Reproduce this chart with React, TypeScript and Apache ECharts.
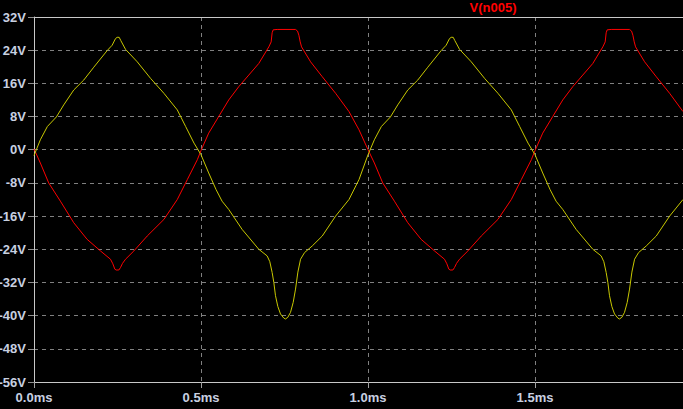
import React, { useEffect, useRef } from "react";
import * as echarts from "echarts";

// Y axis ticks (V)
const yMin = -56;
const yMax = 32;
const yStep = 8;
// X axis (ms)
const xMin = 0;
const xMax = 1.943;
const xStep = 0.5;

const titleText = "V(n005)";

// Yellow trace (time in ms, voltage in V)
const yellowT = [
  0.0, 0.019, 0.04, 0.067, 0.089, 0.119, 0.149, 0.179, 0.219, 0.234, 0.244, 0.249, 0.255, 0.26, 0.274, 0.309,
  0.349, 0.389, 0.429, 0.454, 0.479, 0.5, 0.523, 0.545, 0.563, 0.583, 0.623, 0.673, 0.698, 0.706, 0.713, 0.718,
  0.723, 0.73, 0.738, 0.748, 0.753, 0.76, 0.768, 0.776, 0.783, 0.79, 0.798, 0.81, 0.833, 0.863, 0.903, 0.943,
  0.973, 1.0,
  1.019, 1.04, 1.067, 1.089, 1.119, 1.149, 1.179, 1.219, 1.234, 1.244, 1.249, 1.255, 1.26, 1.274, 1.309,
  1.349, 1.389, 1.429, 1.454, 1.479, 1.5, 1.523, 1.545, 1.563, 1.583, 1.623, 1.673, 1.698, 1.706, 1.713, 1.718,
  1.723, 1.73, 1.738, 1.748, 1.753, 1.76, 1.768, 1.776, 1.783, 1.79, 1.798, 1.81, 1.833, 1.863, 1.903, 1.943,
];
const yellowV = [
  -1.4, 2.4, 5.6, 7.9, 10.8, 14.4, 16.8, 19.9, 23.9, 25.2, 26.8, 27.1, 27.1, 26.3, 24.2, 21.2,
  17.2, 13.6, 9.6, 5.6, 1.6, -1.2, -5.6, -9.6, -12.4, -14.4, -19.2, -24.0, -25.6, -27.0, -29.6, -32.0,
  -35.2, -37.8, -39.6, -40.6, -40.8, -40.4, -39.2, -36.8, -33.6, -29.5, -26.4, -24.8, -23.2, -20.8, -16.0, -12.0,
  -7.2, -1.2,
  2.4, 5.6, 7.9, 10.8, 14.4, 16.8, 19.9, 23.9, 25.2, 26.8, 27.1, 27.1, 26.3, 24.2, 21.2,
  17.2, 13.6, 9.6, 5.6, 1.6, -1.2, -5.6, -9.6, -12.4, -14.4, -19.2, -24.0, -25.6, -27.0, -29.6, -32.0,
  -35.2, -37.8, -39.6, -40.6, -40.8, -40.4, -39.2, -36.8, -33.6, -29.5, -26.4, -24.8, -23.2, -20.8, -16.0, -12.0,
];

// Red trace (time in ms, voltage in V)
const redT = [
  0.0, 0.019, 0.044, 0.079, 0.119, 0.159, 0.199, 0.229, 0.236, 0.242, 0.246, 0.254, 0.259, 0.265, 0.274, 0.299,
  0.339, 0.389, 0.429, 0.459, 0.489, 0.5, 0.523, 0.553, 0.583, 0.613, 0.643, 0.673, 0.703, 0.71, 0.713, 0.716,
  0.728, 0.783, 0.789, 0.793, 0.797, 0.801, 0.828, 0.863, 0.903, 0.943, 0.973, 1.0,
  1.019, 1.044, 1.079, 1.119, 1.159, 1.199, 1.229, 1.236, 1.242, 1.246, 1.254, 1.259, 1.265, 1.274, 1.299,
  1.339, 1.389, 1.429, 1.459, 1.489, 1.5, 1.523, 1.553, 1.583, 1.613, 1.643, 1.673, 1.703, 1.71, 1.713, 1.716,
  1.728, 1.783, 1.789, 1.793, 1.797, 1.801, 1.828, 1.863, 1.903, 1.943,
];
const redV = [
  0.2, -3.2, -8.0, -12.4, -17.6, -21.6, -24.4, -26.4, -27.5, -28.8, -29.0, -29.0, -28.4, -27.4, -26.4, -24.4,
  -20.8, -16.8, -12.0, -7.2, -2.4, -0.2, 4.0, 8.0, 12.0, 15.2, 18.0, 20.8, 24.8, 26.0, 28.2, 28.9,
  29.0, 29.0, 28.6, 27.6, 26.0, 24.8, 21.2, 17.6, 13.6, 9.2, 4.8, 0.0,
  -3.2, -8.0, -12.4, -17.6, -21.6, -24.4, -26.4, -27.5, -28.8, -29.0, -29.0, -28.4, -27.4, -26.4, -24.4,
  -20.8, -16.8, -12.0, -7.2, -2.4, -0.2, 4.0, 8.0, 12.0, 15.2, 18.0, 20.8, 24.8, 26.0, 28.2, 28.9,
  29.0, 29.0, 28.6, 27.6, 26.0, 24.8, 21.2, 17.6, 13.6, 9.2,
];

const zip = (t: number[], v: number[]) => t.map((x, i) => [x, v[i]]);

const FONT = "'Liberation Sans', Arial, sans-serif";
const LABEL_COLOR = "#c8d0e0";

export default function App() {
  const ref = useRef<HTMLDivElement>(null);
  useEffect(() => {
    document.body.style.margin = "0";
    document.body.style.background = "#000";
    const chart = echarts.init(ref.current!, null, { renderer: "svg" });
    chart.setOption({
      animation: false,
      backgroundColor: "#000000",
      grid: {
        left: 34,
        top: 17,
        right: 0,
        bottom: 27,
        containLabel: false,
        outerBoundsMode: "none",
      },
      graphic: [
        {
          type: "text",
          x: 493,
          y: 1,
          style: {
            text: titleText,
            fill: "#ff0000",
            font: `bold 13px ${FONT}`,
            textAlign: "center",
          },
        },
      ],
      xAxis: [
        {
          type: "value",
          min: xMin,
          max: xMax,
          interval: xStep,
          axisLine: { show: true, onZero: false, lineStyle: { color: "#c8c8c8", width: 1 } },
          axisTick: { show: true, length: 6, lineStyle: { color: "#a0a0a0" } },
          axisLabel: {
            color: LABEL_COLOR,
            fontFamily: FONT,
            fontWeight: "bold",
            fontSize: 13,
            margin: 9,
            showMaxLabel: false,
            formatter: (v: number) =>
              Math.abs(v / xStep - Math.round(v / xStep)) < 1e-6 ? v.toFixed(1) + "ms" : "",
          },
          splitLine: { show: true, lineStyle: { color: "#808080", type: [4, 4], width: 1 } },
        },
        {
          type: "value",
          position: "top",
          min: xMin,
          max: xMax,
          axisLine: { show: true, onZero: false, lineStyle: { color: "#c8c8c8", width: 1 } },
          axisTick: { show: false },
          axisLabel: { show: false },
          splitLine: { show: false },
        },
      ],
      yAxis: {
        type: "value",
        min: yMin,
        max: yMax,
        interval: yStep,
        axisLine: { show: true, onZero: false, lineStyle: { color: "#c8c8c8", width: 1 } },
        axisTick: { show: true, length: 6, lineStyle: { color: "#909090" } },
        axisLabel: {
          color: LABEL_COLOR,
          fontFamily: FONT,
          fontWeight: "bold",
          fontSize: 13,
          margin: 8,
          formatter: (v: number) => `${v}V`,
        },
        splitLine: { show: true, lineStyle: { color: "#808080", type: [4, 4], width: 1 } },
      },
      series: [
        {
          type: "line",
          name: "red",
          data: zip(redT, redV),
          showSymbol: false,
          lineStyle: { color: "#ff0000", width: 1 },
          itemStyle: { color: "#ff0000" },
          z: 3,
        },
        {
          type: "line",
          name: "yellow",
          data: zip(yellowT, yellowV),
          showSymbol: false,
          lineStyle: { color: "#c8c800", width: 1 },
          itemStyle: { color: "#c8c800" },
          z: 4,
        },
      ],
    });
    return () => chart.dispose();
  }, []);
  return <div ref={ref} style={{ width: 683, height: 409 }} />;
}
